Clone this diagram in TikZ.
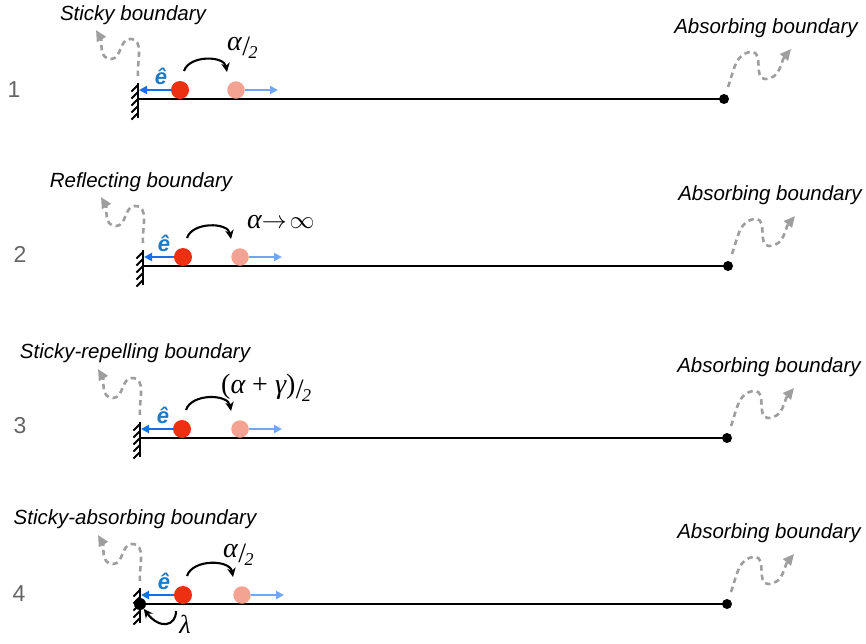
\documentclass[tikz,border=0pt]{standalone}
\usepackage{fontspec}
\setmainfont{Liberation Sans}
\newfontfamily\serfont{Liberation Serif}
\usetikzlibrary{arrows.meta,calc}
\definecolor{redc}{RGB}{238,48,18}
\definecolor{pinkc}{RGB}{244,162,146}
\definecolor{bluedark}{RGB}{22,112,232}
\definecolor{bluelight}{RGB}{110,168,244}
\definecolor{ecol}{RGB}{30,122,196}
\definecolor{sqgray}{RGB}{158,158,158}
\definecolor{numgray}{RGB}{100,100,100}
\newcommand\slashtwo{\kern0.5pt\raisebox{-5pt}{/}\kern-1.5pt\raisebox{-8pt}{\fontsize{18}{18}\selectfont\itshape 2}}
\tikzset{
  lbl/.style={font=\fontsize{20.5}{24}\selectfont\itshape, inner sep=0pt},
  num/.style={font=\fontsize{23}{26}\selectfont, text=numgray, inner sep=0pt},
  rate/.style={font=\fontsize{28}{30}\selectfont\serfont, inner sep=0pt, anchor=base west},
  ehat/.style={font=\fontsize{22}{24}\selectfont\bfseries\itshape, text=ecol, inner sep=0pt},
  mainline/.style={line width=2.9pt, black},
  wallline/.style={line width=2.7pt, black},
  hatch/.style={line width=2pt, black},
  reddot/.style={circle, fill=redc, inner sep=0pt, minimum size=18pt},
  pinkdot/.style={circle, fill=pinkc, inner sep=0pt, minimum size=17.5pt},
  enddot/.style={circle, fill=black, inner sep=0pt, minimum size=10pt},
  walldot/.style={circle, fill=black, inner sep=0pt, minimum size=12pt},
  bluearr/.style={draw=bluedark, line width=2.2pt, -{Triangle[length=8pt,width=8pt]}},
  lightarr/.style={draw=bluelight, line width=2.2pt, -{Triangle[length=8pt,width=8pt]}},
  ratearr/.style={draw=black, line width=2.1pt, -{Stealth[length=9pt,width=8.5pt]}},
  squig/.style={draw=sqgray, line width=2.6pt, dash pattern=on 5.5pt off 4pt,
    -{Triangle[length=11pt,width=10pt,fill=sqgray]}},
}
\begin{document}
\begin{tikzpicture}[x=1pt,y=1pt]
\useasboundingbox (0,0) rectangle (866,-643);
\foreach \i/\w/\l/\r/\p/\e in {1/138/-99/180/236/724, 2/143/-266/183/240/728, 3/140/-438/182/240/727, 4/140/-604/183/242/727}{
  \coordinate (wall\i) at (\w,\l);
  \node[enddot] (end\i) at (\e,\l) {};
  \draw[mainline] (wall\i) -- (end\i.center);
  \coordinate (wt\i) at (\w,{\l+16});
  \coordinate (wb\i) at (\w,{\l-19});
  \draw[wallline] (wt\i) -- (wb\i);
  \foreach \k in {0,...,4}{
    \draw[hatch] (\w,{\l+14-\k*7}) -- ++(-6.5,-6.5);
  }
  \node[reddot] (red\i) at (\r,{\l+9}) {};
  \node[pinkdot] (pink\i) at (\p,{\l+9}) {};
  \coordinate (bt\i) at ({\w+1},{\l+9});
  \draw[bluearr] (red\i) -- (bt\i);
  \coordinate (lt\i) at ({\p+42},{\l+9});
  \draw[lightarr] (pink\i) -- (lt\i);
  \node[ehat] (e\i) at ({\r-19},{\l+23}) {ê};
  \coordinate (cs\i) at ({\r+4},{\l+28});
  \coordinate (ce\i) at ({\p-9},{\l+27});
  \draw[ratearr] (cs\i) to[out=72,in=100] (ce\i);
  \coordinate (ls\i) at (\w,{\l+23});
  \coordinate (lp\i) at ({\w-8},{\l+60});
  \coordinate (lq\i) at ({\w-27},{\l+40});
  \coordinate (lx\i) at ({\w-42},{\l+69});
  \draw[squig] (ls\i) to[out=95,in=0] (lp\i) to[out=180,in=0] (lq\i) to[out=180,in=-60] (lx\i);
  \coordinate (rs\i) at ({\e+4},{\l+12});
  \coordinate (rp\i) at ({\e+28},{\l+47});
  \coordinate (rq\i) at ({\e+41},{\l+20});
  \coordinate (rx\i) at ({\e+67},{\l+50});
  \draw[squig] (rs\i) to[out=70,in=180] (rp\i) to[out=0,in=180] (rq\i) to[out=0,in=-130] (rx\i);
  \node[lbl] (ab\i) at ({\e+42},{\l+71}) {Absorbing boundary};
}
\node[lbl] (bl1) at (133,-15) {Sticky boundary};
\node[lbl] (bl2) at (141,-182) {Reflecting boundary};
\node[lbl] (bl3) at (135,-353) {Sticky-repelling boundary};
\node[lbl] (bl4) at (135,-519) {Sticky-absorbing boundary};
\node[num] (n1) at (14,-90) {1};
\node[num] (n2) at (20,-254) {2};
\node[num] (n3) at (20,-426) {3};
\node[num] (n4) at (19,-594) {4};
\node[rate] (r1) at (227,-50) {{\itshape α}\slashtwo};
\node[rate] (r2) at (247,-228) {{\itshape α}{\fontsize{25}{25}\selectfont$\to\!\infty$}};
\node[rate] (r3) at (221,-393) {({\itshape α} + {\itshape γ})\slashtwo};
\node[rate] (r4) at (223,-557) {{\itshape α}\slashtwo};
\node[walldot] (wd4) at (wall4) {};
\coordinate (lam4s) at (176,-611);
\draw[ratearr] (lam4s) .. controls (176,-626) and (160,-630) .. (wd4);
\node[rate,anchor=center,font=\fontsize{26}{28}\selectfont\serfont] (lam) at (185,-624) {\itshape λ};
\end{tikzpicture}
\end{document}
